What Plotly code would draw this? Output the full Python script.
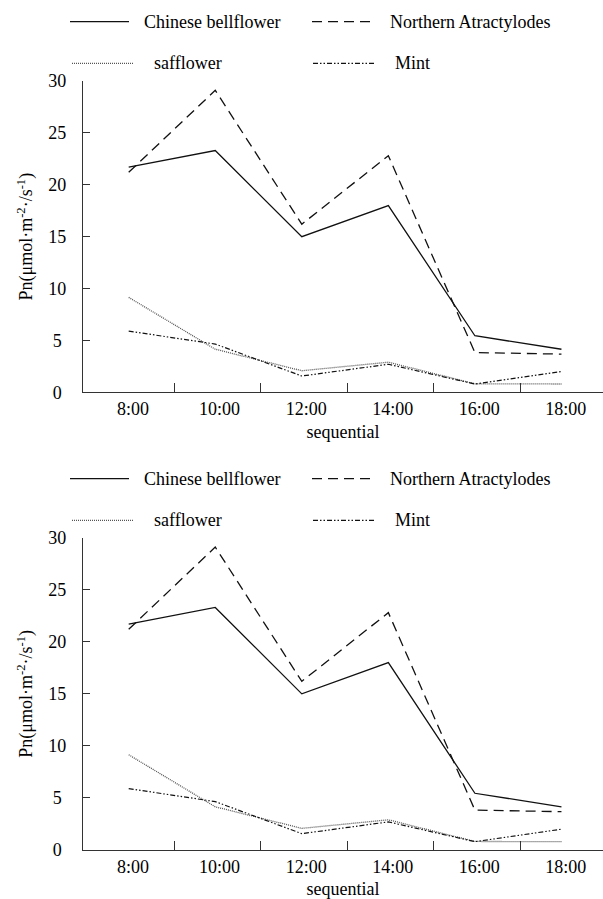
import plotly.graph_objects as go

# ---------------- data ----------------
times = ["8:00", "10:00", "12:00", "14:00", "16:00", "18:00"]
chinese_bellflower = [21.7, 23.3, 15.0, 18.0, 5.45, 4.15]
northern_atractylodes = [21.2, 29.1, 16.2, 22.8, 3.83, 3.68]
safflower = [9.15, 4.15, 2.08, 2.9, 0.82, 0.8]
mint = [5.9, 4.65, 1.57, 2.7, 0.8, 2.0]
y_tickvals = [0, 5, 10, 15, 20, 25, 30]
y_ticktext = ["0\u00a0", "5\u00a0", "10", "15", "20", "25", "30"]
series_names = ["Chinese bellflower", "Northern Atractylodes", "safflower", "Mint"]
x_title = "sequential"
y_title = "Pn(μmol·m<sup>-2</sup>·/s<sup>-1</sup>)"

# ---------------- layout geometry ----------------
W, H = 603, 899
ML = 83
PW = W - ML
FONT = "Liberation Serif"
FS = 18
XR = [-0.528, 5.48]
idx = list(range(len(times)))

def px2x(px):
    return (px - ML) / PW

def py2y(py):
    return (H - py) / H

panels = [(81.0, 392.3), (537.7, 850.0)]

styles = [
    dict(color="#111", width=1.3, dash="solid"),
    dict(color="#111", width=1.3, dash="10px,6px"),
    dict(color="#555", width=1.3, dash="1px,1px"),
    dict(color="#111", width=1.2, dash="5px,2px,1.5px,2px,1.5px,2px"),
]
values = [chinese_bellflower, northern_atractylodes, safflower, mint]

fig = go.Figure()
layout = dict(
    width=W, height=H,
    margin=dict(l=ML, r=0, t=0, b=0, autoexpand=False),
    paper_bgcolor="white", plot_bgcolor="white",
    font=dict(family=FONT, size=FS, color="black"),
    showlegend=False,
)

shapes = []
annotations = []
for p, (top, bot) in enumerate(panels):
    n = p + 1
    xa = "x" if n == 1 else "x2"
    ya = "y" if n == 1 else "y2"
    la = "x3" if n == 1 else "x4"
    for name, vals, st in zip(series_names, values, styles):
        fig.add_trace(go.Scatter(x=idx, y=vals, mode="lines", name=name,
                                 line=st, xaxis=xa, yaxis=ya,
                                 showlegend=False))
    # carrier trace so the label axis is drawn
    fig.add_trace(go.Scatter(x=idx, y=chinese_bellflower, mode="none",
                             xaxis=la, yaxis=ya, showlegend=False,
                             hoverinfo="skip"))
    dom = [py2y(bot), py2y(top)]
    ykey = "yaxis" if n == 1 else "yaxis2"
    xkey = "xaxis" if n == 1 else "xaxis2"
    lkey = "xaxis3" if n == 1 else "xaxis4"
    layout[ykey] = dict(
        domain=dom, anchor=xa, range=[0, 30], automargin=False,
        tickvals=y_tickvals, ticktext=y_ticktext,
        ticks="inside", ticklen=7, tickwidth=1.3, tickcolor="#333",
        showline=True, linecolor="#333", linewidth=1.4,
        showgrid=False, zeroline=False,
        ticklabelstandoff=12,
        title=dict(text=y_title, standoff=10, font=dict(size=FS)),
    )
    layout[xkey] = dict(
        domain=[0, 1], anchor=ya, range=XR, automargin=False,
        tickvals=[i + 0.525 for i in idx[:-1]],
        showticklabels=False,
        ticks="inside", ticklen=9, tickwidth=1.3, tickcolor="#333",
        showline=True, linecolor="#333", linewidth=1.4,
        showgrid=False, zeroline=False,
    )
    layout[lkey] = dict(
        overlaying=xa, anchor=ya, side="bottom", range=XR, automargin=False,
        tickvals=[i + 0.05 for i in idx], ticktext=times,
        ticks="", showline=False, showgrid=False, zeroline=False,
        ticklabelstandoff=4,
        title=dict(text=x_title, standoff=7, font=dict(size=FS)),
    )

    # manual legend (two rows of two entries)
    off = 0 if n == 1 else 457.0
    rows = [21.7 + off, 63.3 + off]
    entries = [
        (0, 70, 129, 142.5, rows[0]),
        (1, 312, 375, 388.5, rows[0]),
        (2, 72, 133, 152.5, rows[1]),
        (3, 313, 375, 394.0, rows[1]),
    ]
    for k, x0, x1, tx, ry in entries:
        st = styles[k]
        shapes.append(dict(type="line", xref="paper", yref="paper",
                           x0=px2x(x0), x1=px2x(x1), y0=py2y(ry), y1=py2y(ry),
                           line=dict(color=st["color"], width=st["width"], dash=st["dash"])))
        annotations.append(dict(xref="paper", yref="paper", x=px2x(tx), y=py2y(ry),
                                xanchor="left", yanchor="middle", showarrow=False,
                                borderpad=0,
                                text=series_names[k], font=dict(family=FONT, size=FS, color="black")))

layout["shapes"] = shapes
layout["annotations"] = annotations
fig.update_layout(**layout)
fig.write_html("out.html", config={"displayModeBar": False},
               post_script="document.body.style.margin='0';document.body.style.overflow='hidden';")
